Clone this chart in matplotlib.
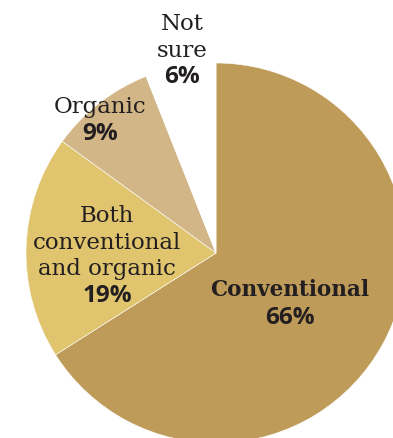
import matplotlib.pyplot as plt

# Opinión sobre el tipo de cultivo (porcentajes)
categorias = ['Conventional', 'Both\nconventional\nand organic', 'Organic', 'Not\nsure']
valores = [66, 19, 9, 6]
colores = ['#BF9B5A', '#E0C56E', '#D2B688', '#FFFFFF']

W, H = 393, 438
fig = plt.figure(figsize=(W / 100, H / 100), dpi=100)
ax = fig.add_axes([0, 0, 1, 1])

# Centro y radio en píxeles de la figura (el círculo queda recortado abajo y a la derecha)
cx, cy, r = 216, H - 253, 190
ax.pie(valores, colors=colores, startangle=90, counterclock=False,
       center=(cx, cy), radius=r, frame=True,
       wedgeprops={'edgecolor': 'white', 'linewidth': 0.4})
ax.set_xlim(0, W)
ax.set_ylim(0, H)
ax.set_aspect('equal')
ax.axis('off')

# Posición de cada etiqueta: centro x y línea base de la primera línea (píxeles de imagen)
pos_etiquetas = [(290, 296), (107, 222), (100, 113), (182, 30)]
paso = 26.7
color_txt = '#231F20'
for cat, val, (x, y0) in zip(categorias, valores, pos_etiquetas):
    lineas = cat.split('\n')
    negrita = cat == 'Conventional'
    for i, linea in enumerate(lineas):
        ax.text(x, H - (y0 + i * paso), linea, ha='center', va='baseline',
                fontsize=15.5 if negrita else 16.5,
                fontweight='bold' if negrita else 'normal',
                family='DejaVu Serif', color=color_txt)
    y_pct = y0 + len(lineas) * paso + (1 if negrita else 0)
    ax.text(x, H - y_pct, f'{val}%', ha='center', va='baseline',
            fontsize=17.5, fontweight='bold', fontstyle='normal',
            family='Open Sans', color=color_txt)

fig.savefig('out.png', dpi=100)
